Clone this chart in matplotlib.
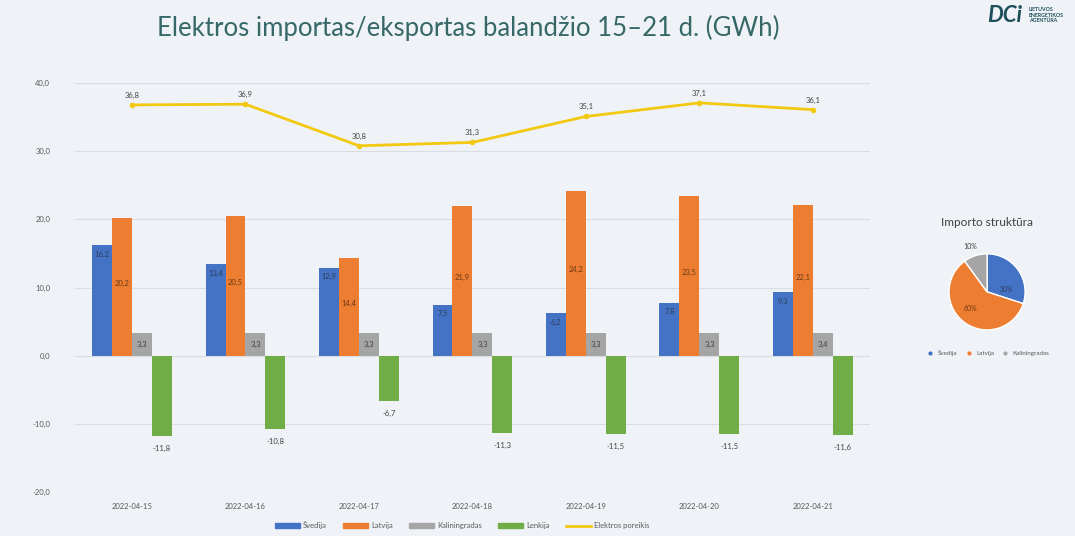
import numpy as np
import matplotlib.pyplot as plt
from matplotlib.patches import Patch
from matplotlib.lines import Line2D

# Duomenys
datos = ['2022-04-15', '2022-04-16', '2022-04-17', '2022-04-18',
         '2022-04-19', '2022-04-20', '2022-04-21']
svedija = [16.2, 13.4, 12.9, 7.5, 6.2, 7.8, 9.3]
latvija = [20.2, 20.5, 14.4, 21.9, 24.2, 23.5, 22.1]
kaliningradas = [3.3, 3.3, 3.3, 3.3, 3.3, 3.3, 3.4]
lenkija = [-11.8, -10.8, -6.7, -11.3, -11.5, -11.5, -11.6]
poreikis = [36.8, 36.9, 30.8, 31.3, 35.1, 37.1, 36.1]

pie_labels = ['Švedija', 'Latvija', 'Kaliningradas']
pie_shares = [30, 60, 10]

spalvos = ['#4472C4', '#ED7D31', '#A5A5A5', '#70AD47']
geltona = '#F2C811'
fonas = '#eff3f7'
teksto = '#595959'

plt.rcParams['font.family'] = ['Lato', 'DejaVu Sans']

fig = plt.figure(figsize=(10.75, 5.36), dpi=100, facecolor=fonas)

# Pavadinimas
fig.text(0.436, 0.947, 'Elektros importas/eksportas balandžio 15–21 d. (GWh)',
         ha='center', va='center', fontsize=18.5, color='#366868')

# Logotipas (apytikslis)
fig.text(0.935, 0.972, 'DCi', ha='center', va='center', fontsize=16,
         fontweight='bold', color='#1d4f5a', style='italic')
fig.text(0.957, 0.972, 'LIETUVOS\nENERGETIKOS\nAGENTŪRA', ha='left', va='center',
         fontsize=3.8, fontweight='bold', color='#1d4f5a', linespacing=1.1)

# Pagrindinis grafikas
ax = fig.add_axes([0.070, 0.082, 0.739, 0.763])
ax.set_facecolor(fonas)
x = np.arange(len(datos))
w = 0.176
serijos = [svedija, latvija, kaliningradas, lenkija]
for i, (vals, c) in enumerate(zip(serijos, spalvos)):
    bars = ax.bar(x + (i - 1.5) * w, vals, width=w, color=c, zorder=2)
    for b, v in zip(bars, vals):
        lbl = f'{v:.1f}'.replace('.', ',')
        cx = b.get_x() + b.get_width() / 2
        if i == 0:
            ax.text(cx, v - 1.3, lbl, ha='center', va='center', fontsize=5.5, color='#2f3f60', zorder=4)
        elif i == 1:
            ax.text(cx, v / 2 + 0.5, lbl, ha='center', va='center', fontsize=5.5, color='#6b3a16', zorder=4)
        elif i == 2:
            ax.text(cx, v / 2, lbl, ha='center', va='center', fontsize=5.5, color='#404040', zorder=4)
        else:
            ax.text(cx, v - 1.8, lbl, ha='center', va='center', fontsize=5.5, color='#404040', zorder=4)

ax.plot(x, poreikis, color=geltona, lw=2, marker='o', ms=3, zorder=3)
for xi, v in zip(x, poreikis):
    ax.text(xi, v + 1.4, f'{v:.1f}'.replace('.', ','), ha='center', va='center',
            fontsize=5.5, color='#404040')

ax.set_ylim(-20, 40)
ax.set_xlim(-0.5, len(datos) - 0.5)
ax.set_yticks(np.arange(-20, 41, 10))
ax.set_yticklabels([f'{t:.1f}'.replace('.', ',') for t in np.arange(-20, 41, 10)])
ax.set_xticks(x)
ax.set_xticklabels(datos)
ax.tick_params(axis='both', length=0, labelsize=5.5, colors=teksto)
ax.tick_params(axis='y', pad=18)
ax.tick_params(axis='x', pad=8)
ax.grid(axis='y', color='#d9dde2', lw=0.8, zorder=0)
for s in ax.spines.values():
    s.set_visible(False)

handles = [Patch(color=c) for c in spalvos] + [Line2D([], [], color=geltona, lw=2)]
ax.legend(handles, ['Švedija', 'Latvija', 'Kaliningradas', 'Lenkija', 'Elektros poreikis'],
          loc='upper center', bbox_to_anchor=(0.487, -0.055), ncol=5, frameon=False,
          fontsize=5.5, handlelength=3.2, handleheight=0.6, columnspacing=2.2,
          handletextpad=0.4, labelcolor=teksto)

# Pyrago diagrama
pax = fig.add_axes([0.881, 0.381, 0.0744, 0.149])
pax.pie(pie_shares, colors=spalvos[:3], startangle=90, counterclock=False,
        wedgeprops=dict(edgecolor='white', linewidth=1))
pax.set_aspect('equal')
pax.set_xlim(-1.05, 1.05)
pax.set_ylim(-1.05, 1.05)
pax.text(0.5, 0.05, f'{pie_shares[0]}%', ha='center', va='center', fontsize=5, color='#2f3f60')
pax.text(-0.45, -0.45, f'{pie_shares[1]}%', ha='center', va='center', fontsize=5, color='#6b3a16')
pax.text(-0.45, 1.2, f'{pie_shares[2]}%', ha='center', va='center', fontsize=5, color='#404040')
fig.text(0.918, 0.585, 'Importo struktūra', ha='center', va='center', fontsize=8.5, color='#404040')
pie_handles = [Line2D([], [], marker='o', ls='', ms=2, color=c) for c in spalvos[:3]]
fig.legend(pie_handles, pie_labels, loc='center', bbox_to_anchor=(0.918, 0.341), ncol=3,
           frameon=False, fontsize=4.5, handletextpad=0.2, columnspacing=0.8,
           labelcolor=teksto)

fig.savefig('out.png', dpi=100, facecolor=fonas)
